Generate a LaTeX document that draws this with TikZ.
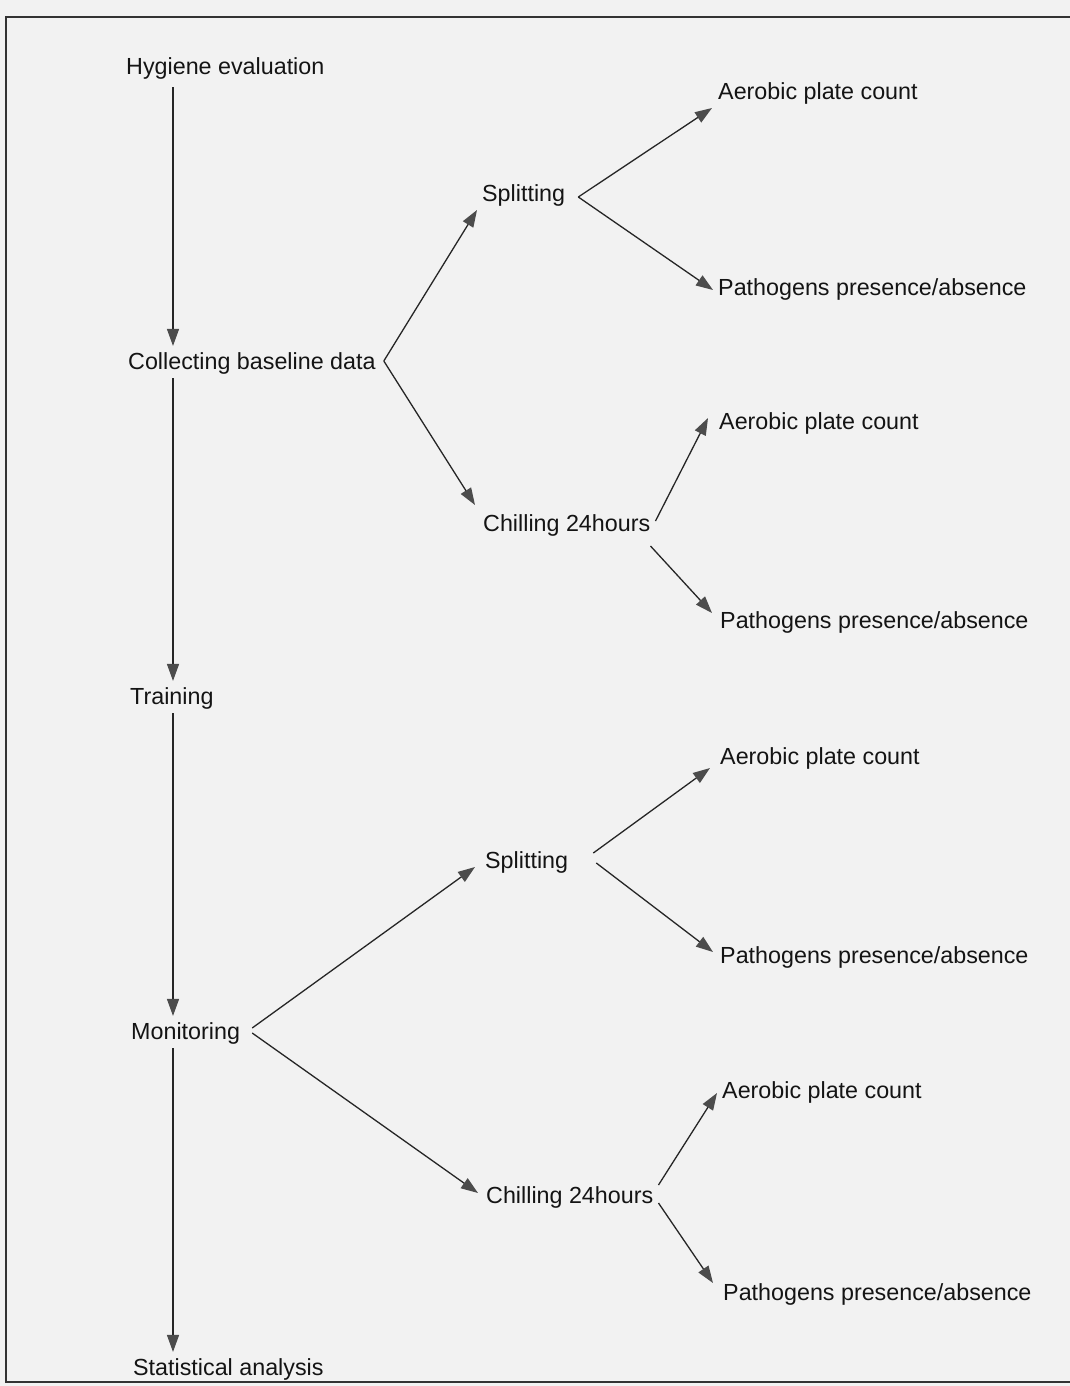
\documentclass[tikz,border=0pt]{standalone}
\usepackage{fontspec}
\setmainfont{Liberation Sans}
\usepackage{tikz}
\usetikzlibrary{positioning}
\usetikzlibrary{arrows.meta}

\tikzset{
  lbl/.style={anchor=west, inner sep=0pt, font=\fontsize{23.3}{28}\selectfont, text=black!92},
  arr/.style={-{Triangle[length=17pt,width=12pt,color=black!70]}, line width=1.3pt, draw=black!85},
}

\begin{document}
\begin{tikzpicture}[x=1pt,y=-1pt]
\useasboundingbox (0,0) rectangle (1070,1386);
\fill [black!5] (0,0) rectangle (1070,1386);
\draw [line width=1.2pt, black!80] (1090,17) -- (6,17) -- (6,1382) -- (1090,1382);

\node [lbl] (he) at (126,68) {Hygiene evaluation};
\node [lbl] (cb) at (128,363) {Collecting baseline data};
\node [lbl] (tr) at (130,698) {Training};
\node [lbl] (mo) at (131,1033) {Monitoring};
\node [lbl] (sa) at (133,1369) {Statistical analysis};
\coordinate (trunk) at (173,0);

\node [lbl] (sp1) at (482,195) {Splitting};
\node [lbl] (ch1) at (483,525) {Chilling 24hours};
\node [lbl] (apa) at (718,93) {Aerobic plate count};
\node [lbl] (ppa) at (718,289) {Pathogens presence/absence};
\node [lbl] (apb) at (719,423) {Aerobic plate count};
\node [lbl] (ppb) at (720,622) {Pathogens presence/absence};

\node [lbl] (sp2) at (485,862) {Splitting};
\node [lbl] (ch2) at (486,1197) {Chilling 24hours};
\node [lbl] (apc) at (720,758) {Aerobic plate count};
\node [lbl] (ppc) at (720,957) {Pathogens presence/absence};
\node [lbl] (apd) at (722,1092) {Aerobic plate count};
\node [lbl] (ppd) at (723,1294) {Pathogens presence/absence};

\draw [arr, shorten <=8pt, shorten >=6pt] (he.south -| trunk) -- (cb.north -| trunk);
\draw [arr, shorten <=4pt, shorten >=6pt] (cb.south -| trunk) -- (tr.north -| trunk);
\draw [arr, shorten <=4pt, shorten >=6pt] (tr.south -| trunk) -- (mo.north -| trunk);
\draw [arr, shorten <=4pt, shorten >=6pt] (mo.south -| trunk) -- (sa.north -| trunk);

\draw [arr] ([xshift=8pt,yshift=2pt]cb.east) -- ([xshift=-5pt,yshift=-15pt]sp1.west);
\draw [arr] ([xshift=8pt,yshift=2pt]cb.east) -- ([xshift=-8pt,yshift=20pt]ch1.west);
\draw [arr] ([xshift=13pt,yshift=-2pt]sp1.east) -- ([xshift=-6pt,yshift=-15pt]apa.west);
\draw [arr] ([xshift=13pt,yshift=-2pt]sp1.east) -- ([xshift=-5pt,yshift=-1pt]ppa.west);
\draw [arr] ([xshift=5pt,yshift=4pt]ch1.east) -- ([xshift=-11pt,yshift=5pt]apb.west);
\draw [arr] ([yshift=-21pt]ch1.east) -- ([xshift=-8pt,yshift=9pt]ppb.west);

\draw [arr] ([xshift=12pt,yshift=5pt]mo.east) -- ([xshift=-10pt,yshift=-5pt]sp2.west);
\draw [arr] ([xshift=12pt]mo.east) -- ([xshift=-8pt,yshift=4pt]ch2.west);
\draw [arr] ([xshift=25pt,yshift=9pt]sp2.east) -- ([xshift=-10pt,yshift=-10pt]apc.west);
\draw [arr] ([xshift=28pt,yshift=-1pt]sp2.east) -- ([xshift=-7pt,yshift=5pt]ppc.west);
\draw [arr] ([xshift=5pt,yshift=12pt]ch2.east) -- ([xshift=-5pt,yshift=-1pt]apd.west);
\draw [arr] ([xshift=5pt,yshift=-6pt]ch2.east) -- ([xshift=-10pt,yshift=11pt]ppd.west);
\end{tikzpicture}
\end{document}
